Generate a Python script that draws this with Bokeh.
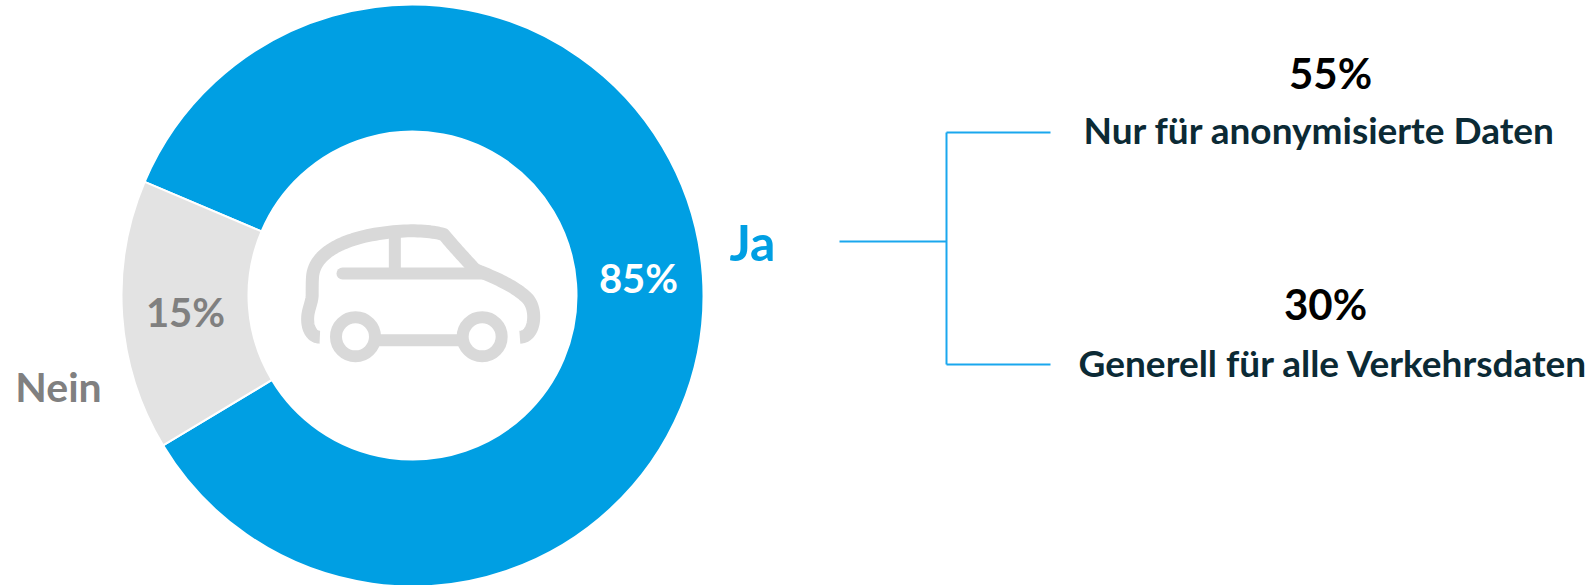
import math
from bokeh.plotting import figure
from bokeh.models import Range1d
from bokeh.core.properties import value
from bokeh.embed import file_html
from bokeh.resources import INLINE

# data
categories = ["Ja", "Nein"]
shares = [85, 15]
slice_colors = ["#009FE3", "#E3E3E3"]
sub_labels = ["Nur für anonymisierte Daten", "Generell für alle Verkehrsdaten"]
sub_shares = [55, 30]

FONT = "Lato"
W, H = 1595, 585
def Y(py):  # page pixel row to data y
    return H - py

p = figure(width=W, height=H, x_range=Range1d(0, W), y_range=Range1d(0, H),
           output_backend="svg", toolbar_location=None, min_border=0)
p.axis.visible = False
p.grid.visible = False
p.outline_line_color = None
p.background_fill_color = "white"

# donut
cx, cy, R, r = 412, 295, 291, 164
start_nein = math.radians(157.0)
sweep = [s / sum(shares) * 2 * math.pi for s in shares]
starts = [start_nein + sweep[1], start_nein]
ends = [starts[0] + sweep[0], start_nein + sweep[1]]
p.annular_wedge(x=[cx] * 2, y=[Y(cy)] * 2, inner_radius=r, outer_radius=R,
                start_angle=starts, end_angle=ends, fill_color=slice_colors,
                line_color="white", line_width=2)

# car icon (page pixels derived from a 3x crop at 280,200)
def zx(v): return 280 + v / 3
def zy(v): return 200 + v / 3
def bez(pts, n=24):
    out = []
    for i in range(0, len(pts) - 1, 3):
        a, b, c, d = pts[i:i + 4]
        for k in range(n + 1):
            t = k / n
            m = 1 - t
            out.append(tuple(m**3*a[j] + 3*m*m*t*b[j] + 3*m*t*t*c[j] + t**3*d[j] for j in (0, 1)))
    return out
body = bez([(118, 410), (95, 410), (78, 385), (82, 345),
            (84, 325), (94, 305), (95, 285),
            (95, 265), (95, 245), (96, 230),
            (100, 170), (160, 130), (250, 108),
            (340, 88), (430, 85), (490, 102),
            (515, 133), (545, 165), (575, 198),
            (580, 206), (590, 210), (600, 214),
            (660, 238), (710, 263), (740, 293),
            (772, 325), (765, 410), (718, 410)])
CAR = "#D9D9D9"
p.line([zx(a) for a, b in body], [Y(zy(b)) for a, b in body], line_color=CAR, line_width=13,
       line_join="round", line_cap="butt")
p.line([zx(186), zx(610)], [Y(zy(219))] * 2, line_color=CAR, line_width=12, line_cap="round")
p.line([zx(343), zx(343)], [Y(zy(100)), Y(zy(219))], line_color=CAR, line_width=12)
p.line([zx(290), zx(540)], [Y(zy(419))] * 2, line_color=CAR, line_width=12)
p.circle(x=[zx(225), zx(605)], y=[Y(zy(409))] * 2, radius=19.5, fill_color="white",
         line_color=CAR, line_width=12)

# connector
LINE = "#1AA7EE"
p.line([839, 946], [Y(241)] * 2, line_color=LINE, line_width=2)
p.line([946, 946], [Y(132), Y(364)], line_color=LINE, line_width=2)
p.line([946, 1050], [Y(132)] * 2, line_color=LINE, line_width=2)
p.line([946, 1050], [Y(364)] * 2, line_color=LINE, line_width=2)

def label(x, py, txt, size, color, align="center"):
    p.text(x=[x], y=[Y(py) + 0.38 * size], text=[txt], text_font=value(FONT), text_font_style="bold",
           text_font_size=f"{size}px", text_color=color, text_align=align,
           text_baseline="alphabetic")

label(752, 260, categories[0], 50, "#009FE3")
label(58, 402, categories[1], 41, "#808080")
label(638, 293, f"{shares[0]}%", 40, "white")
label(185, 327, f"{shares[1]}%", 40, "#808080")
label(1330, 88, f"{sub_shares[0]}%", 42, "black")
label(1325, 319, f"{sub_shares[1]}%", 42, "black")
label(1319, 143, sub_labels[0], 37, "#0B2A35")
label(1333, 376, sub_labels[1], 37, "#0B2A35")

open("out.html", "w").write(file_html(p, INLINE))
